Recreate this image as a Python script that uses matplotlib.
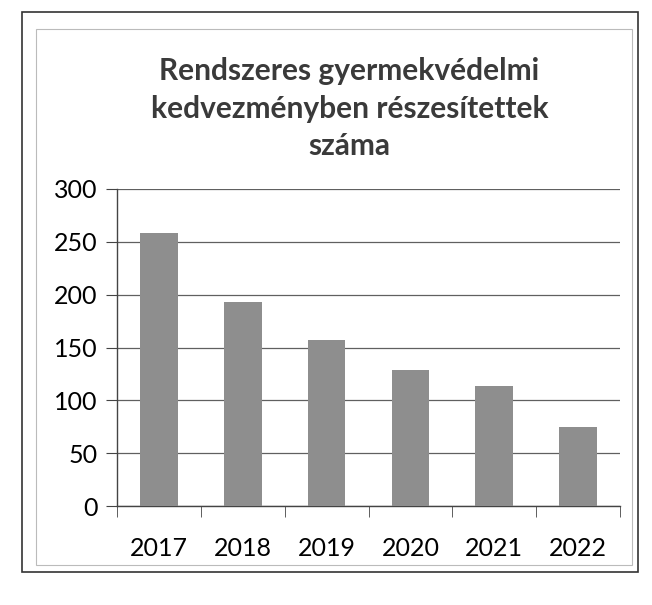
import matplotlib
matplotlib.use('Agg')
import matplotlib.pyplot as plt
from matplotlib.patches import Rectangle

# data
years = ['2017', '2018', '2019', '2020', '2021', '2022']
counts = [258, 193, 157, 129, 114, 75]
title = 'Rendszeres gyermekvédelmi\nkedvezményben részesítettek\nszáma'

plt.rcParams['font.family'] = ['Lato', 'DejaVu Sans']

fig = plt.figure(figsize=(6.52, 6.05), dpi=100)
fig.patch.set_facecolor('white')

# scanned page frames
fig.patches.append(Rectangle((22 / 652, 1 - 572 / 605), 616 / 652, 560 / 605,
                             transform=fig.transFigure, fill=False,
                             edgecolor='#333333', lw=1.2))
fig.patches.append(Rectangle((36 / 652, 1 - 565 / 605), 596 / 652, 536 / 605,
                             transform=fig.transFigure, fill=False,
                             edgecolor='#bbbbbb', lw=0.8))

ax = fig.add_axes([117 / 652, 1 - 506 / 605, 503 / 652, 317 / 605])
x = range(len(years))
ax.bar(x, counts, width=0.45, color='#8e8e8e', zorder=3)

ax.set_xlim(-0.5, len(years) - 0.5)
ax.set_ylim(0, 300)
ax.set_yticks(range(0, 301, 50))
ax.set_xticks(list(x))
ax.set_xticklabels(years)
ax.grid(axis='y', color='#606060', lw=0.9, zorder=0)

for s in ['top', 'right']:
    ax.spines[s].set_visible(False)
for s in ['left', 'bottom']:
    ax.spines[s].set_color('#444444')
    ax.spines[s].set_linewidth(1.0)

ax.tick_params(axis='y', length=8, color='#444444', labelsize=18, pad=6)
ax.tick_params(axis='x', length=0, labelsize=18, pad=22)
# category boundary tick marks, Excel style
ax.set_xticks([i - 0.5 for i in range(len(years) + 1)], minor=True)
ax.tick_params(axis='x', which='minor', length=8, color='#444444', direction='out')

fig.text(0.536, 1 - 57 / 605, title, ha='center', va='top', fontsize=21.5,
         fontweight='bold', color='#3a3a3a', linespacing=1.42)

fig.savefig('out.png', dpi=100)
